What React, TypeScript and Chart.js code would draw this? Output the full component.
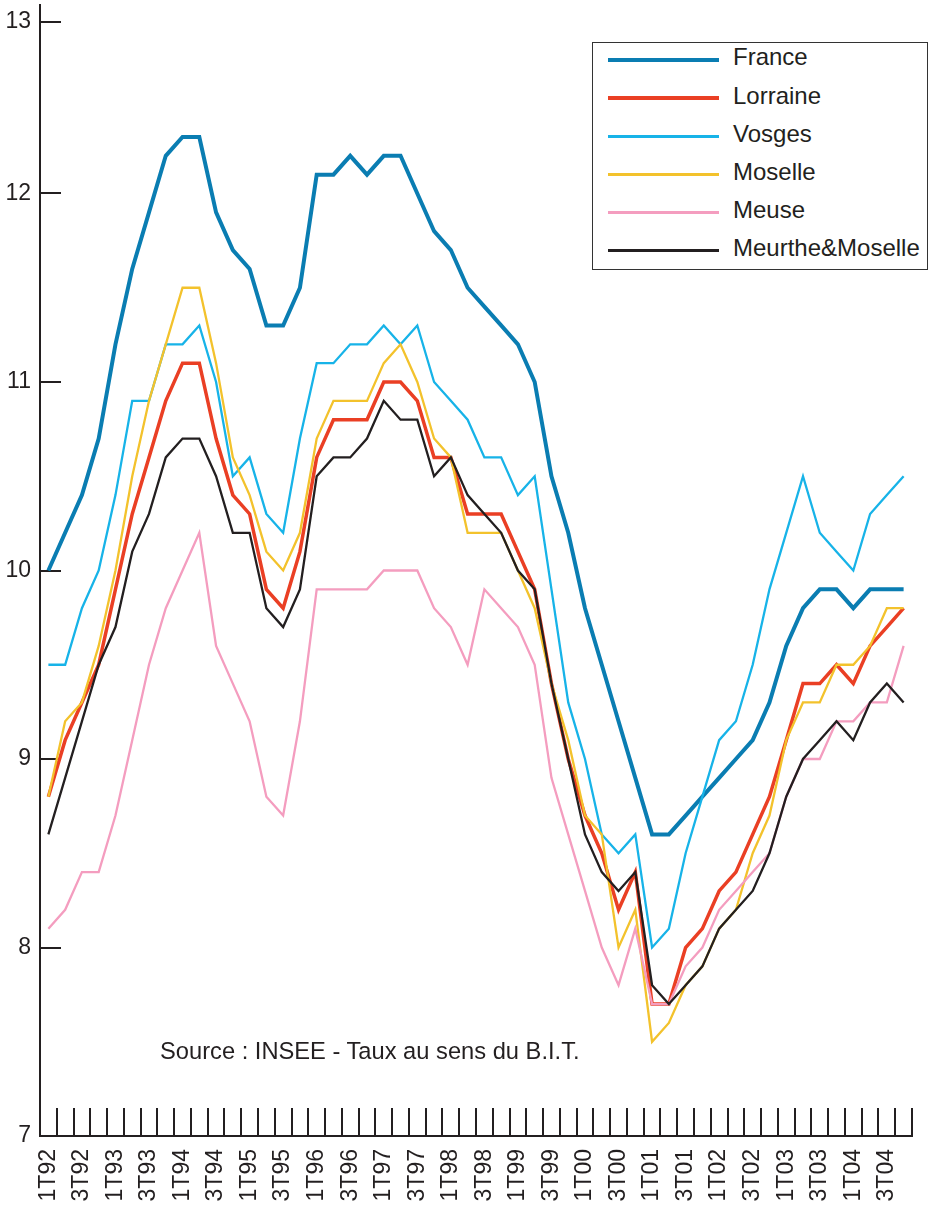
import React, { useEffect, useRef } from 'react';
import { Chart, registerables } from 'chart.js';

Chart.register(...registerables);

const quarters = [
  '1T92', '2T92', '3T92', '4T92', '1T93', '2T93', '3T93', '4T93',
  '1T94', '2T94', '3T94', '4T94', '1T95', '2T95', '3T95', '4T95',
  '1T96', '2T96', '3T96', '4T96', '1T97', '2T97', '3T97', '4T97',
  '1T98', '2T98', '3T98', '4T98', '1T99', '2T99', '3T99', '4T99',
  '1T00', '2T00', '3T00', '4T00', '1T01', '2T01', '3T01', '4T01',
  '1T02', '2T02', '3T02', '4T02', '1T03', '2T03', '3T03', '4T03',
  '1T04', '2T04', '3T04', '4T04',
];

const france = [
  10.0, 10.2, 10.4, 10.7, 11.2, 11.6, 11.9, 12.2, 12.3, 12.3, 11.9, 11.7, 11.6, 11.3,
  11.3, 11.5, 12.1, 12.1, 12.2, 12.1, 12.2, 12.2, 12.0, 11.8, 11.7, 11.5, 11.4,
  11.3, 11.2, 11.0, 10.5, 10.2, 9.8, 9.5, 9.2, 8.9, 8.6, 8.6, 8.7, 8.8,
  8.9, 9.0, 9.1, 9.3, 9.6, 9.8, 9.9, 9.9, 9.8, 9.9, 9.9, 9.9,
];

const lorraine = [
  8.8, 9.1, 9.3, 9.5, 9.9, 10.3, 10.6, 10.9, 11.1, 11.1, 10.7, 10.4, 10.3, 9.9,
  9.8, 10.1, 10.6, 10.8, 10.8, 10.8, 11.0, 11.0, 10.9, 10.6, 10.6, 10.3, 10.3,
  10.3, 10.1, 9.9, 9.4, 9.0, 8.7, 8.5, 8.2, 8.4, 7.7, 7.7, 8.0, 8.1,
  8.3, 8.4, 8.6, 8.8, 9.1, 9.4, 9.4, 9.5, 9.4, 9.6, 9.7, 9.8,
];

const vosges = [
  9.5, 9.5, 9.8, 10.0, 10.4, 10.9, 10.9, 11.2, 11.2, 11.3, 11.0, 10.5, 10.6, 10.3,
  10.2, 10.7, 11.1, 11.1, 11.2, 11.2, 11.3, 11.2, 11.3, 11.0, 10.9, 10.8, 10.6,
  10.6, 10.4, 10.5, 9.9, 9.3, 9.0, 8.6, 8.5, 8.6, 8.0, 8.1, 8.5, 8.8,
  9.1, 9.2, 9.5, 9.9, 10.2, 10.5, 10.2, 10.1, 10.0, 10.3, 10.4, 10.5,
];

const moselle = [
  8.8, 9.2, 9.3, 9.6, 10.0, 10.5, 10.9, 11.2, 11.5, 11.5, 11.1, 10.6, 10.4, 10.1,
  10.0, 10.2, 10.7, 10.9, 10.9, 10.9, 11.1, 11.2, 11.0, 10.7, 10.6, 10.2, 10.2,
  10.2, 10.0, 9.8, 9.4, 9.1, 8.7, 8.6, 8.0, 8.2, 7.5, 7.6, 7.8, 7.9,
  8.1, 8.2, 8.5, 8.7, 9.1, 9.3, 9.3, 9.5, 9.5, 9.6, 9.8, 9.8,
];

const meuse = [
  8.1, 8.2, 8.4, 8.4, 8.7, 9.1, 9.5, 9.8, 10.0, 10.2, 9.6, 9.4, 9.2, 8.8,
  8.7, 9.2, 9.9, 9.9, 9.9, 9.9, 10.0, 10.0, 10.0, 9.8, 9.7, 9.5, 9.9,
  9.8, 9.7, 9.5, 8.9, 8.6, 8.3, 8.0, 7.8, 8.1, 7.7, 7.7, 7.9, 8.0,
  8.2, 8.3, 8.4, 8.5, 8.8, 9.0, 9.0, 9.2, 9.2, 9.3, 9.3, 9.6,
];

const meurtheMoselle = [
  8.6, 8.9, 9.2, 9.5, 9.7, 10.1, 10.3, 10.6, 10.7, 10.7, 10.5, 10.2, 10.2, 9.8,
  9.7, 9.9, 10.5, 10.6, 10.6, 10.7, 10.9, 10.8, 10.8, 10.5, 10.6, 10.4, 10.3,
  10.2, 10.0, 9.9, 9.4, 9.0, 8.6, 8.4, 8.3, 8.4, 7.8, 7.7, 7.8, 7.9,
  8.1, 8.2, 8.3, 8.5, 8.8, 9.0, 9.1, 9.2, 9.1, 9.3, 9.4, 9.3,
];

const seriesNames = ['France', 'Lorraine', 'Vosges', 'Moselle', 'Meuse', 'Meurthe&Moselle'];
const seriesValues = [france, lorraine, vosges, moselle, meuse, meurtheMoselle];
const seriesColors = ['#0a7db2', '#ea3f24', '#17b3e8', '#f3c22c', '#f49dbf', '#231f20'];
const seriesWidths = [4, 3.5, 2.3, 2.3, 2.3, 2.3];
const legendWidths = [4, 4, 3, 3, 3, 3];

const yTickLabels = ['7', '8', '9', '10', '11', '12', '13'];
const sourceNote = 'Source : INSEE - Taux au sens du B.I.T.';

const FONT = "'Liberation Sans', Arial, Helvetica, sans-serif";
const INK = '#231f20';

const clearPadding = (scale: any) => {
  scale.paddingTop = 0;
  scale.paddingBottom = 0;
  scale.paddingLeft = 0;
  scale.paddingRight = 0;
};

export default function App() {
  const canvasRef = useRef<HTMLCanvasElement | null>(null);

  useEffect(() => {
    const canvas = canvasRef.current;
    if (!canvas) return;
    const chart = new Chart(canvas, {
      type: 'line',
      data: {
        labels: quarters,
        datasets: seriesNames.map((name, i) => ({
          label: name,
          data: seriesValues[i],
          borderColor: seriesColors[i],
          backgroundColor: seriesColors[i],
          borderWidth: seriesWidths[i],
          pointRadius: 0,
          pointHoverRadius: 0,
          tension: 0,
          fill: false,
          order: seriesNames.length - i,
        })),
      },
      options: {
        responsive: false,
        animation: false,
        events: [],
        layout: { padding: { top: 5, right: 20, left: 0, bottom: 0 } },
        plugins: {
          legend: { display: false },
          tooltip: { enabled: false },
          title: { display: false },
        },
        scales: {
          x: {
            type: 'category',
            offset: true,
            grid: {
              offset: true,
              drawOnChartArea: false,
              drawTicks: true,
              tickLength: -28,
              color: INK,
              lineWidth: 2,
            },
            border: { display: true, color: INK, width: 2 },
            ticks: {
              autoSkip: false,
              maxRotation: 90,
              minRotation: 90,
              padding: 41,
              color: INK,
              font: { family: FONT, size: 23 },
              callback: (_v: any, index: number) => (index % 2 === 0 ? quarters[index] : ''),
            },
            afterFit: (scale: any) => {
              scale.height = 72;
              clearPadding(scale);
            },
          },
          y: {
            type: 'linear',
            min: 7,
            max: 13,
            grid: {
              drawOnChartArea: false,
              drawTicks: true,
              tickLength: -21,
              color: INK,
              lineWidth: 2,
            },
            border: { display: true, color: INK, width: 2 },
            afterBuildTicks: (scale: any) => {
              const vals = [7, 8, 9, 10, 11, 12, 12.91];
              scale.ticks = vals.map((v) => ({ value: v }));
            },
            ticks: {
              padding: 30,
              color: INK,
              font: { family: FONT, size: 23 },
              callback: (_v: any, index: number) => yTickLabels[index],
            },
            afterFit: (scale: any) => {
              scale.width = 40;
              clearPadding(scale);
            },
          },
        },
      },
    });
    return () => chart.destroy();
  }, []);

  const rowTop = 60;
  const rowStep = 38.1;

  return (
    <div
      style={{
        position: 'absolute',
        left: 0,
        top: 0,
        width: 932,
        height: 1208,
        background: '#ffffff',
        overflow: 'hidden',
        fontFamily: FONT,
        color: INK,
      }}
    >
      <canvas ref={canvasRef} width={932} height={1208} style={{ display: 'block', width: 932, height: 1208 }} />
      <div
        style={{
          position: 'absolute',
          left: 592,
          top: 42,
          width: 336,
          height: 228,
          boxSizing: 'border-box',
          border: '1.5px solid #333333',
          background: '#ffffff',
        }}
      />
      {seriesNames.map((name, i) => {
        const y = rowTop + rowStep * i;
        return (
          <React.Fragment key={name}>
            <div
              style={{
                position: 'absolute',
                left: 608,
                width: 111,
                top: y - legendWidths[i] / 2,
                height: legendWidths[i],
                background: seriesColors[i],
              }}
            />
            <div
              style={{
                position: 'absolute',
                left: 733,
                top: y - 14.6,
                fontSize: 24,
                lineHeight: '24px',
                whiteSpace: 'nowrap',
              }}
            >
              {name}
            </div>
          </React.Fragment>
        );
      })}
      <div
        style={{
          position: 'absolute',
          left: 160,
          top: 1040,
          fontSize: 23.7,
          lineHeight: '23.7px',
          whiteSpace: 'nowrap',
        }}
      >
        {sourceNote}
      </div>
    </div>
  );
}
